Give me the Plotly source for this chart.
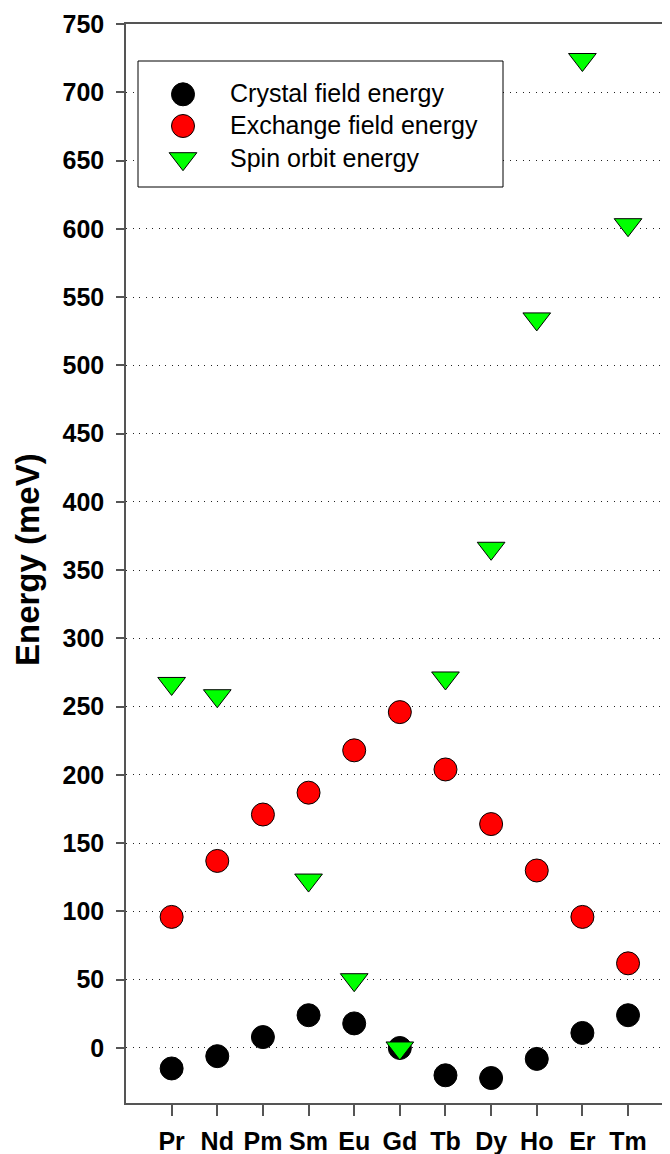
import plotly.graph_objects as go

# ---- data ----
elements = ["Pr", "Nd", "Pm", "Sm", "Eu", "Gd", "Tb", "Dy", "Ho", "Er", "Tm"]
crystal_field = [-15, -6, 8, 24, 18, 0, -20, -22, -8, 11, 24]
exchange_field = [96, 137, 171, 187, 218, 246, 204, 164, 130, 96, 62]
spin_orbit = [267, 258, None, 123, 50, 0, 271, 366, 534, 724, 603]
y_ticks = list(range(0, 751, 50))
series_names = ["Crystal field energy", "Exchange field energy", "Spin orbit energy"]
y_title = "Energy (meV)"

# ---- geometry (page pixels; the page body adds an 8px margin) ----
OFF = 8
PAGE_W, PAGE_H = 670, 1154
W, H = PAGE_W - OFF, PAGE_H - OFF
AX_LEFT, AX_TOP, AX_BOTTOM = 126, 24, 1103          # page pixel positions
L = AX_LEFT - OFF
T = AX_TOP - OFF
B = (OFF + H) - AX_BOTTOM
R = 0
PW, PH = W - L - R, H - T - B
CAT_STEP = 45.64


def px_x(p):
    return (p - AX_LEFT) / PW


def px_y(p):
    return (AX_BOTTOM - p) / PH


FONT = "Liberation Sans, Arial, sans-serif"
AXC = "#555555"

styles = [
    dict(symbol="circle", color="#000000", size=23),
    dict(symbol="circle", color="#ff0000", size=23),
    dict(symbol="triangle-down", color="#00ff00", size=24),
]

fig = go.Figure()
for name, vals, st in zip(series_names, [crystal_field, exchange_field, spin_orbit], styles):
    fig.add_trace(go.Scatter(
        x=elements, y=vals, mode="markers", name=name, showlegend=False,
        cliponaxis=False,
        marker=dict(symbol=st["symbol"], color=st["color"], size=st["size"],
                    line=dict(color="#000000", width=1)),
    ))

# ---- custom legend box (drawn above the gridlines, below the legend keys) ----
bx0, bx1 = px_x(138), px_x(503)
by0, by1 = px_y(187), px_y(61)
fig.add_trace(go.Scatter(
    x=[bx0, bx1, bx1, bx0, bx0], y=[by0, by0, by1, by1, by0],
    xaxis="x2", yaxis="y2", mode="lines", fill="toself", fillcolor="white",
    line=dict(color="#000000", width=1), showlegend=False, hoverinfo="skip",
    cliponaxis=False,
))

leg_sym_x = px_x(183)
leg_txt_x = px_x(228)
leg_rows = [94.3, 126, 158.7]
for name, st, ry in zip(series_names, styles, leg_rows):
    fig.add_trace(go.Scatter(
        x=[leg_sym_x], y=[px_y(ry)], xaxis="x2", yaxis="y2", mode="markers",
        showlegend=False, hoverinfo="skip", cliponaxis=False,
        marker=dict(symbol=st["symbol"], color=st["color"], size=st["size"],
                    line=dict(color="#000000", width=1)),
    ))
    fig.add_annotation(x=leg_txt_x, y=px_y(ry - 1), xref="paper", yref="paper",
                       text=name, showarrow=False, xanchor="left", yanchor="middle",
                       font=dict(family=FONT, size=25, color="#000000"))

# y-axis title
fig.add_annotation(x=px_x(27), y=px_y(560), xref="paper", yref="paper",
                   text=y_title, showarrow=False, textangle=-90,
                   xanchor="center", yanchor="middle",
                   font=dict(family=FONT, size=33, color="#000000", weight="bold"))

fig.update_layout(
    width=W, height=H,
    margin=dict(l=L, r=R, t=T, b=B, pad=0),
    paper_bgcolor="white", plot_bgcolor="white",
    showlegend=False,
    xaxis=dict(
        type="category", categoryorder="array", categoryarray=elements,
        range=[-1, PW / CAT_STEP - 1],
        showline=True, linecolor=AXC, linewidth=1.5, mirror=True,
        ticks="outside", ticklen=11, tickwidth=1.5, tickcolor=AXC,
        tickfont=dict(family=FONT, size=25, color="#000000", weight="bold"),
        ticklabelstandoff=4,
        showgrid=False, zeroline=False, automargin=False,
    ),
    yaxis=dict(
        range=[-40.3, 750], tickvals=y_ticks,
        showline=True, linecolor=AXC, linewidth=1.5, mirror=False,
        ticks="outside", ticklen=8, tickwidth=1.5, tickcolor=AXC,
        tickfont=dict(family=FONT, size=25, color="#000000", weight="bold"),
        ticklabelstandoff=7,
        showgrid=True, gridcolor="#222222", gridwidth=1, griddash="1px,5.5px",
        zeroline=False, automargin=False,
    ),
    xaxis2=dict(overlaying="x", anchor="y2", range=[0, 1], visible=False, fixedrange=True),
    yaxis2=dict(overlaying="y", anchor="x2", range=[0, 1], visible=False, fixedrange=True),
)

fig.write_html("out.html")
